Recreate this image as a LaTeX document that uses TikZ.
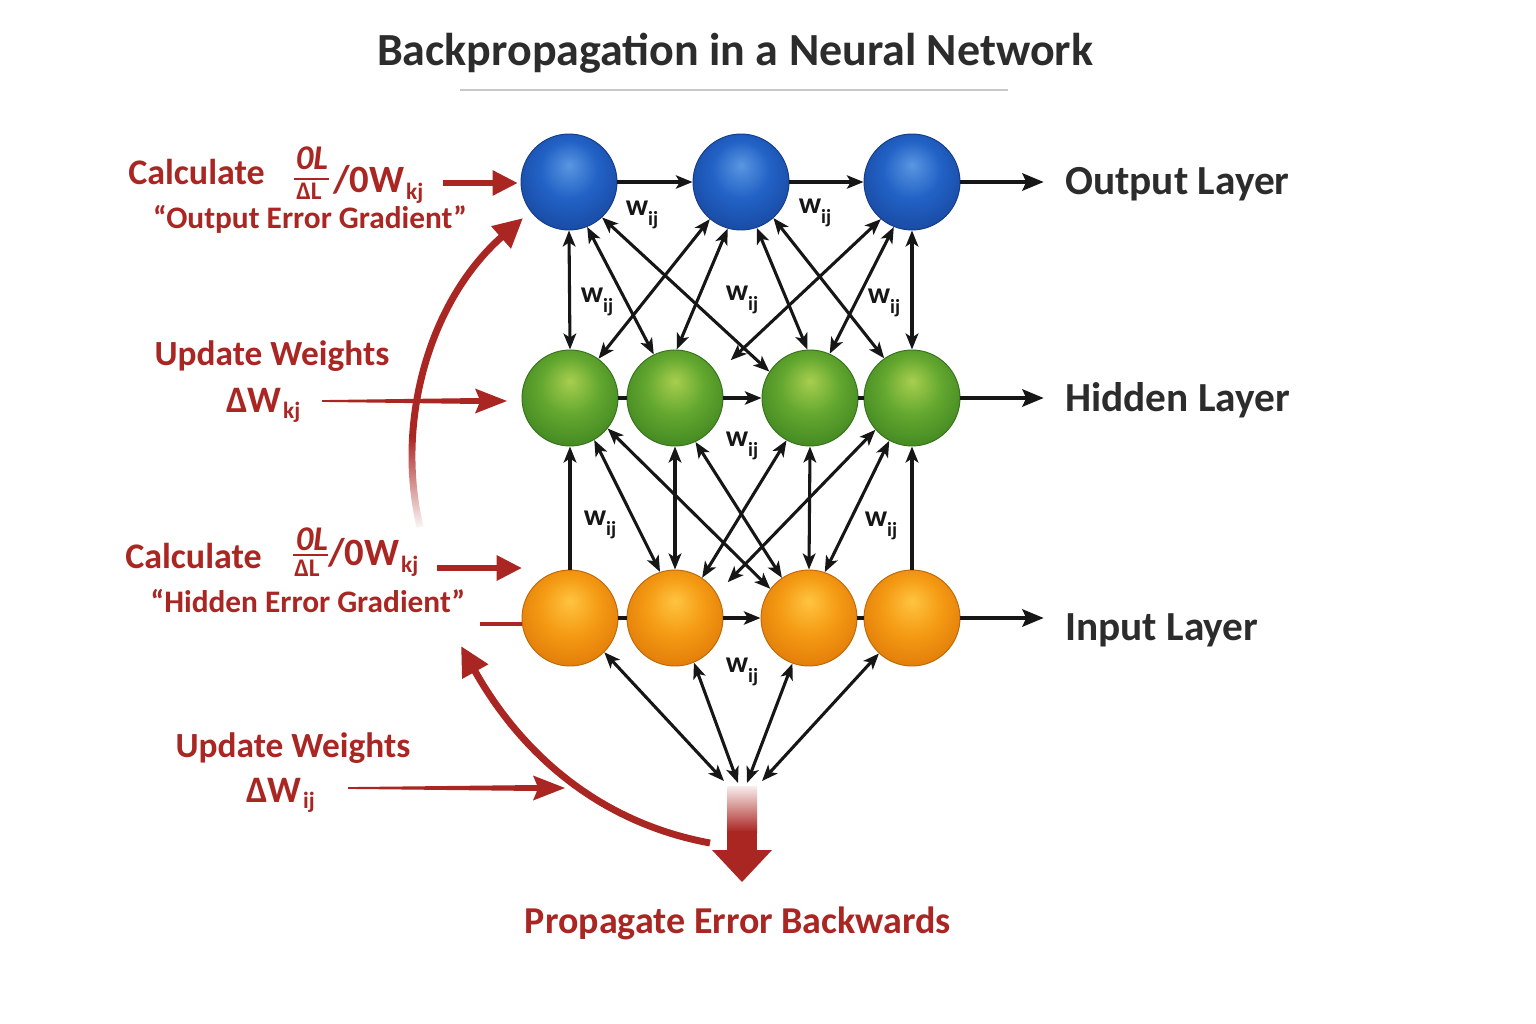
\documentclass[tikz,border=0pt]{standalone}
\usepackage{fontspec}
\setmainfont{Carlito}
\usetikzlibrary{arrows.meta,calc,fadings}

\definecolor{accent}{RGB}{170,38,34}
\definecolor{ink}{RGB}{44,44,44}
\definecolor{linecol}{RGB}{22,22,22}
\definecolor{rulegray}{RGB}{200,200,200}
\definecolor{blueHi}{RGB}{90,150,225}
\definecolor{blueMid}{RGB}{34,98,198}
\definecolor{blueLo}{RGB}{24,72,160}
\definecolor{greenHi}{RGB}{168,206,78}
\definecolor{greenMid}{RGB}{100,168,48}
\definecolor{greenLo}{RGB}{64,134,32}
\definecolor{orangeHi}{RGB}{255,196,64}
\definecolor{orangeMid}{RGB}{245,155,20}
\definecolor{orangeLo}{RGB}{224,122,8}

\pgfdeclareradialshading{blueball}{\pgfpoint{0bp}{9bp}}{color(0bp)=(blueHi); color(15bp)=(blueMid); color(31bp)=(blueLo); color(50bp)=(blueLo)}
\pgfdeclareradialshading{greenball}{\pgfpoint{0bp}{9bp}}{color(0bp)=(greenHi); color(15bp)=(greenMid); color(31bp)=(greenLo); color(50bp)=(greenLo)}
\pgfdeclareradialshading{orangeball}{\pgfpoint{0bp}{9bp}}{color(0bp)=(orangeHi); color(15bp)=(orangeMid); color(31bp)=(orangeLo); color(50bp)=(orangeLo)}

\pgfdeclareverticalshading{curvefadeshade}{100bp}{color(0bp)=(pgftransparent!100); color(25bp)=(pgftransparent!100); color(40bp)=(pgftransparent!0); color(100bp)=(pgftransparent!0)}
\pgfdeclarefading{curvefade}{\pgfuseshading{curvefadeshade}}

\newcommand\wsub{w\raisebox{-0.32em}{\fontsize{15}{15}\selectfont ij}}

\begin{document}
\begin{tikzpicture}[x=0.75pt,y=-0.75pt,
  neuron/.style={circle, minimum size=72pt, inner sep=0pt, shade, shading=#1ball, draw=#1Lo!85!black, line width=0.7pt},
  link/.style={draw=linecol, line width=2.3pt, arrows={Stealth[length=12pt,width=9.5pt,inset=3pt]-Stealth[length=12pt,width=9.5pt,inset=3pt]}},
  uplink/.style={draw=linecol, line width=2.3pt, arrows={-Stealth[length=12pt,width=9.5pt,inset=3pt]}},
  fwd/.style={draw=linecol, line width=2.3pt, arrows={-Stealth[length=12.5pt,width=10pt,inset=3pt]}},
  joinline/.style={draw=linecol, line width=2.3pt},
  layerarrow/.style={draw=linecol, line width=2.8pt, arrows={-Stealth[length=16pt,width=13pt,inset=3pt]}, shorten >=16pt},
  layerlbl/.style={anchor=base west, inner sep=0pt, text=ink, font=\fontsize{31}{36}\selectfont\bfseries},
  wlab/.style={text=linecol, inner sep=0pt, font=\fontsize{22.5}{26}\selectfont\bfseries},
  redtxt/.style={text=accent, inner sep=0pt, font=\fontsize{27}{32}\selectfont\bfseries},
  redbig/.style={text=accent, inner sep=0pt, font=\fontsize{29}{34}\selectfont\bfseries},
  rednum/.style={text=accent, inner sep=0pt, font=\fontsize{26}{30}\selectfont\bfseries\itshape},
  redden/.style={text=accent, inner sep=0pt, font=\fontsize{19}{22}\selectfont\bfseries},
  redsub/.style={text=accent, inner sep=0pt, font=\fontsize{17.5}{20}\selectfont\bfseries},
  redquote/.style={text=accent, inner sep=0pt, font=\fontsize{23.5}{28}\selectfont\bfseries},
  redupd/.style={text=accent, inner sep=0pt, font=\fontsize{26.5}{31}\selectfont\bfseries},
  reddw/.style={text=accent, inner sep=0pt, font=\fontsize{28}{32}\selectfont\bfseries},
  redarrow/.style={draw=accent, line width=4.5pt, arrows={-Triangle[length=19pt,width=18pt]}},
  bigcurve/.style={draw=accent, line width=5.2pt, arrows={-Triangle[length=22pt,width=21pt]}},
]
\useasboundingbox (0,0) rectangle (1536,1024);
\fill[white] (0,0) rectangle (1536,1024);

% title
\node[anchor=base, inner sep=0pt, text=ink, font=\fontsize{34.5}{40}\selectfont\bfseries] (title) at (735,66) {Backpropagation in a Neural Network};
\coordinate (ul1) at (460,90);
\coordinate (ul2) at (1008,90);
\draw[rulegray, line width=1.6pt] (ul1) -- (ul2);

% neurons
\node[neuron=blue] (o1) at (569,182) {};
\node[neuron=blue] (o2) at (741,182) {};
\node[neuron=blue] (o3) at (912,182) {};
\node[neuron=green] (h1) at (570,398) {};
\node[neuron=green] (h2) at (675,398) {};
\node[neuron=green] (h3) at (810,398) {};
\node[neuron=green] (h4) at (912,398) {};
\node[neuron=orange] (i1) at (570,618) {};
\node[neuron=orange] (i2) at (675,618) {};
\node[neuron=orange] (i3) at (809,618) {};
\node[neuron=orange] (i4) at (912,618) {};

% layer labels
\node[layerlbl] (outlbl) at (1065,195) {Output Layer};
\node[layerlbl] (hidlbl) at (1065,411) {Hidden Layer};
\node[layerlbl] (inlbl) at (1065,640) {Input Layer};

% row connections
\draw[fwd] (o1.east) -- (o2.west);
\draw[fwd] (o2.east) -- (o3.west);
\draw[layerarrow] (o3.east) -- (o3.east -| outlbl.west);
\draw[joinline] (h1.east) -- (h2.west);
\draw[fwd] (h2.east) -- (h3.west);
\draw[joinline] (h3.east) -- (h4.west);
\draw[layerarrow] (h4.east) -- (h4.east -| hidlbl.west);
\draw[joinline] (i1.east) -- (i2.west);
\draw[fwd] (i2.east) -- (i3.west);
\draw[joinline] (i3.east) -- (i4.west);
\draw[layerarrow] (i4.east) -- (i4.east -| inlbl.west);

% output <-> hidden
\draw[link] (o1.south) -- (h1.north);
\draw[link] (o1.-68) -- (h2.116);
\draw[link] (o1.-47) -- (h3.147);
\draw[link] (o2.-130) -- (h1.54);
\draw[link] (o2.-106) -- (h2.88);
\draw[link] (o2.-71) -- (h3.93);
\draw[link] (o2.-48) -- (h4.125);
\draw[link] (o3.-130) -- ($(h2.35)+(16,-10)$);
\draw[link] (o3.-112) -- (h3.66);
\draw[link] (o3.south) -- (h4.north);

% hidden <-> input
\draw[uplink] (i1.north) -- (h1.south);
\draw[link] (h1.-60) -- (i2.108);
\draw[link] (h1.-39) -- (i3.143);
\draw[link] (h2.south) -- (i2.north);
\draw[link] (h2.-65) -- (i3.124);
\draw[link] (h3.-119) -- (i2.56);
\draw[link] (h3.south) -- (i3.north);
\draw[link] (h4.-139) -- ($(i2.35)+(13,-8)$);
\draw[link] (h4.-118) -- (i3.71);
\draw[uplink] (i4.north) -- (h4.south);

% input <-> error point
\coordinate (m1) at (724,781);
\coordinate (m2) at (738,783);
\coordinate (m3) at (747,783);
\coordinate (m4) at (762,781);
\draw[link] (i1.-45) -- (m1);
\draw[link] (i2.-67) -- (m2);
\draw[link] (i3.-110) -- (m3);
\draw[link] (i4.-133) -- (m4);

% w_ij labels
\node[wlab] (w1) at (642,215) {\wsub};
\node[wlab] (w2) at (815,213) {\wsub};
\node[wlab] (w3) at (597,302) {\wsub};
\node[wlab] (w4) at (742,300) {\wsub};
\node[wlab] (w5) at (884,303) {\wsub};
\node[wlab] (w6) at (742,446) {\wsub};
\node[wlab] (w7) at (600,525) {\wsub};
\node[wlab] (w8) at (881,526) {\wsub};
\node[wlab] (w9) at (742,672) {\wsub};

% error propagation arrow
\shade[top color=accent!8, bottom color=accent] (727,786) rectangle (757,832);
\fill[accent] (727,831) rectangle (757,851);
\fill[accent] (712,850) -- (772,850) -- (742,882) -- cycle;
\node[anchor=base, inner sep=0pt, text=accent, font=\fontsize{28.5}{34}\selectfont\bfseries] (prop) at (738,933) {Propagate Error Backwards};

% block 1: output error gradient
\node[redtxt, anchor=base west] (calc1) at (128,185) {Calculate};
\node[rednum, anchor=base] (num1) at (312,170) {0L};
\draw[accent, line width=1.6pt] (294,179) -- (329,179);
\node[redden, anchor=base] (den1) at (309,199) {ΔL};
\node[redbig, anchor=base west] (div1) at (333,192) {/0W};
\node[redsub, anchor=base west] (sub1) at ($(div1.base east)+(1,7)$) {kj};
\node[redquote, anchor=base] (grad1) at (310,228) {“Output Error Gradient”};
\coordinate (c1s) at (443,183);
\draw[redarrow, shorten >=2pt] (c1s) -- (c1s -| o1.west);

% block 2: update weights kj
\node[redupd, anchor=base] (upd1) at (272,365) {Update Weights};
\node[reddw, anchor=base west] (dw1) at (226,412) {ΔW};
\node[redsub, anchor=base west] (dws1) at ($(dw1.base east)+(1,6)$) {kj};
\coordinate (kjs) at (322,401);
\coordinate (kjt) at (507,401);
\fill[accent] ($(kjs)+(0,-0.9)$) -- ($(kjt)+(-28,-3)$) -- ($(kjt)+(-32,-12.5)$) -- (kjt) -- ($(kjt)+(-32,12.5)$) -- ($(kjt)+(-28,3)$) -- ($(kjs)+(0,0.9)$) -- cycle;

% block 3: hidden error gradient
\node[redtxt, anchor=base west] (calc2) at (125,568) {Calculate};
\node[rednum, anchor=base] (num2) at (312,550) {0L};
\draw[accent, line width=1.6pt] (293,555) -- (328,555);
\node[redden, anchor=base] (den2) at (307,576) {ΔL};
\node[redbig, anchor=base west] (div2) at (328,565) {/0W};
\node[redsub, anchor=base west] (sub2) at ($(div2.base east)+(1,7)$) {kj};
\node[redquote, anchor=base] (grad2) at (308,612) {“Hidden Error Gradient”};
\coordinate (c2s) at (437,568);
\coordinate (c2t) at (522,568);
\draw[redarrow] (c2s) -- (c2t);
\coordinate (rin) at (480,624);
\draw[accent, line width=2.3pt] (rin) -- (rin -| i1.west);

% block 4: update weights ij
\node[redupd, anchor=base] (upd2) at (293,757) {Update Weights};
\node[reddw, anchor=base west] (dw2) at (246,802) {ΔW};
\node[redsub, anchor=base west] (dws2) at ($(dw2.base east)+(1,6)$) {ij};
\coordinate (ijs) at (348,788);
\coordinate (ijt) at (565,788);
\fill[accent] ($(ijs)+(0,-0.9)$) -- ($(ijt)+(-28,-3)$) -- ($(ijt)+(-32,-12.5)$) -- (ijt) -- ($(ijt)+(-32,12.5)$) -- ($(ijt)+(-28,3)$) -- ($(ijs)+(0,0.9)$) -- cycle;

% big curved arrows
\coordinate (lc0) at (420,527);
\coordinate (lc1) at (523,218);
\draw[bigcurve, path fading=curvefade] (lc0) .. controls (395,420) and (430,300) .. (lc1);
\coordinate (bc0) at (710,843);
\coordinate (bc1) at (461,646);
\draw[bigcurve] (bc0) .. controls (575,818) and (505,725) .. (bc1);
\end{tikzpicture}
\end{document}
